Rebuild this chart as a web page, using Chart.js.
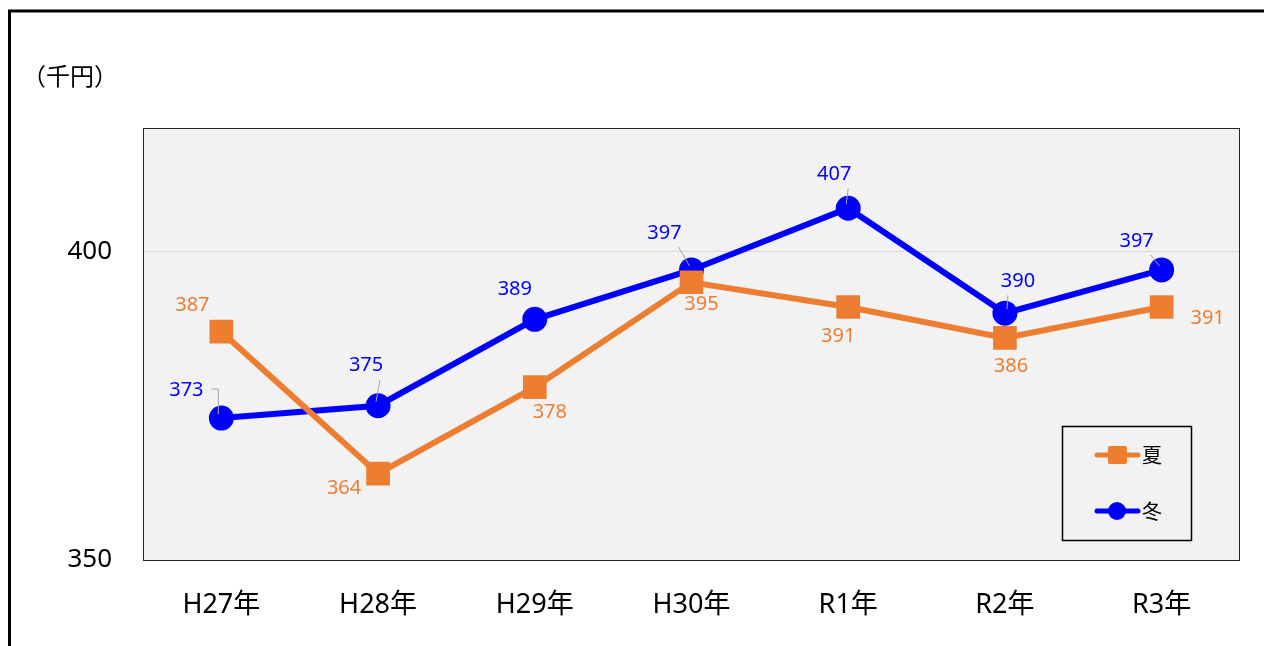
<!DOCTYPE html>
<html>
<head>
<meta charset="utf-8">
<script src="https://cdn.jsdelivr.net/npm/chart.js@4/dist/chart.umd.min.js"></script>
<style>
  body { margin: 0; background: #fff; }
  #wrap { width: 1264px; height: 646px; position: relative; }
</style>
</head>
<body>
<div id="wrap"><canvas id="myChart" width="1264" height="646"></canvas></div>
<script>
var years = ['H27年', 'H28年', 'H29年', 'H30年', 'R1年', 'R2年', 'R3年'];
var summer = [387, 364, 378, 395, 391, 386, 391];
var winter = [373, 375, 389, 397, 407, 390, 397];
var yTicks = [350, 400];

// label offsets from the point (pixels) and whether a leader line is drawn
var summerLabelPos = [[-29, -26], [-34, 15], [15, 25], [10, 22], [-10, 29], [6, 28], [46, 11]];
var winterLabelPos = [[-35, -28], [-12, -40], [-20, -30], [-27, -37], [-14, -34], [13, -32], [-25, -29]];
var winterLeader = [true, true, false, true, true, true, true];

var FONT = '"Noto Sans", "Noto Sans CJK JP", sans-serif';

var framePlugin = {
  id: 'frame',
  beforeDraw: function (chart) {
    var ctx = chart.ctx, a = chart.chartArea;
    ctx.save();
    ctx.fillStyle = '#f2f2f2';
    ctx.fillRect(a.left, a.top, a.right - a.left, a.bottom - a.top);
    // outer frame
    ctx.strokeStyle = '#000';
    ctx.lineWidth = 3;
    ctx.beginPath();
    ctx.moveTo(8, 11); ctx.lineTo(1264, 11);
    ctx.moveTo(9.5, 10); ctx.lineTo(9.5, 646);
    ctx.stroke();
    // axis title
    ctx.fillStyle = '#000';
    ctx.font = '24px "Noto Sans CJK JP", sans-serif';
    ctx.textBaseline = 'middle';
    ctx.fillText('（千円）', 22, 76);
    ctx.restore();
  },
  afterDatasetsDraw: function (chart) {
    var ctx = chart.ctx, a = chart.chartArea;
    ctx.save();
    ctx.strokeStyle = '#262626';
    ctx.lineWidth = 1;
    ctx.strokeRect(a.left + 0.5, a.top + 0.5, a.right - a.left - 1, a.bottom - a.top);

    // data labels
    ctx.font = '20px ' + FONT;
    ctx.textAlign = 'center';
    ctx.textBaseline = 'middle';
    var sets = [
      { idx: 0, pos: summerLabelPos, leader: null },
      { idx: 1, pos: winterLabelPos, leader: winterLeader }
    ];
    sets.forEach(function (s) {
      var meta = chart.getDatasetMeta(s.idx);
      var ds = chart.data.datasets[s.idx];
      meta.data.forEach(function (pt, i) {
        var lx = pt.x + s.pos[i][0], ly = pt.y + s.pos[i][1];
        if (s.leader && s.leader[i]) {
          ctx.strokeStyle = '#a6a6a6';
          ctx.lineWidth = 1;
          ctx.beginPath();
          var dx = s.pos[i][0];
          if (Math.abs(dx) > 30) {
            ctx.moveTo(lx + 25, ly - 1);
            ctx.lineTo(pt.x - 3, ly - 1);
            ctx.lineTo(pt.x - 3, pt.y - 4);
          } else {
            ctx.moveTo(lx + (dx < 0 ? 14 : -10), ly + 14);
            ctx.lineTo(pt.x - (dx < 0 ? 2 : -2), pt.y - 4);
          }
          ctx.stroke();
        }
        ctx.fillStyle = ds.borderColor;
        ctx.fillText(ds.data[i], lx, ly);
      });
    });

    // legend box
    var bx = 1062, by = 426, bw = 129, bh = 114;
    ctx.fillStyle = '#f2f2f2';
    ctx.fillRect(bx, by, bw, bh);
    ctx.strokeStyle = '#000';
    ctx.lineWidth = 1.5;
    ctx.strokeRect(bx + 0.5, by + 0.5, bw, bh);
    chart.data.datasets.forEach(function (ds, k) {
      var y = by + 29 + k * 56;
      ctx.strokeStyle = ds.borderColor;
      ctx.lineWidth = 5;
      ctx.lineCap = 'round';
      ctx.beginPath();
      ctx.moveTo(1097, y); ctx.lineTo(1138, y);
      ctx.stroke();
      ctx.fillStyle = ds.borderColor;
      if (ds.pointStyle === 'rect') {
        ctx.beginPath();
        ctx.roundRect(1108, y - 9, 19, 18, 2);
        ctx.fill();
      } else {
        ctx.beginPath();
        ctx.arc(1117, y, 9, 0, Math.PI * 2);
        ctx.fill();
      }
      ctx.fillStyle = '#000';
      ctx.font = '20px "Noto Sans CJK JP", sans-serif';
      ctx.textAlign = 'left';
      ctx.fillText(ds.label, 1142, y);
    });
    ctx.restore();
  }
};

var ctx = document.getElementById('myChart').getContext('2d');
var myChart = new Chart(ctx, {
  type: 'line',
  data: {
    labels: years,
    datasets: [{
      label: '夏',
      data: summer,
      borderColor: '#ED7D31',
      backgroundColor: '#ED7D31',
      borderWidth: 6,
      pointStyle: 'rect',
      pointRadius: 12.5,
      pointHoverRadius: 12.5,
      tension: 0
    }, {
      label: '冬',
      data: winter,
      borderColor: '#0000FF',
      backgroundColor: '#0000FF',
      borderWidth: 6,
      pointStyle: 'circle',
      pointRadius: 9.5,
      pointHoverRadius: 9.5,
      tension: 0
    }]
  },
  options: {
    responsive: false,
    animation: false,
    layout: { padding: { top: 128, right: 24, left: 0, bottom: 0 } },
    plugins: { legend: { display: false }, tooltip: { enabled: false } },
    scales: {
      x: {
        offset: true,
        grid: { display: false, drawTicks: false },
        border: { display: false },
        ticks: { color: '#000', font: { size: 27, family: FONT }, padding: 29 },
        afterFit: function (s) { s.height = 86; }
      },
      y: {
        min: 350,
        max: 420,
        afterBuildTicks: function (s) { s.ticks = yTicks.map(function (v) { return { value: v }; }); },
        grid: { color: '#d9d9d9', drawTicks: false, lineWidth: 1 },
        border: { display: false },
        ticks: { color: '#000', font: { size: 26, family: FONT }, padding: 31 },
        afterFit: function (s) { s.width = 143; }
      }
    }
  },
  plugins: [framePlugin]
});
</script>
</body>
</html>
